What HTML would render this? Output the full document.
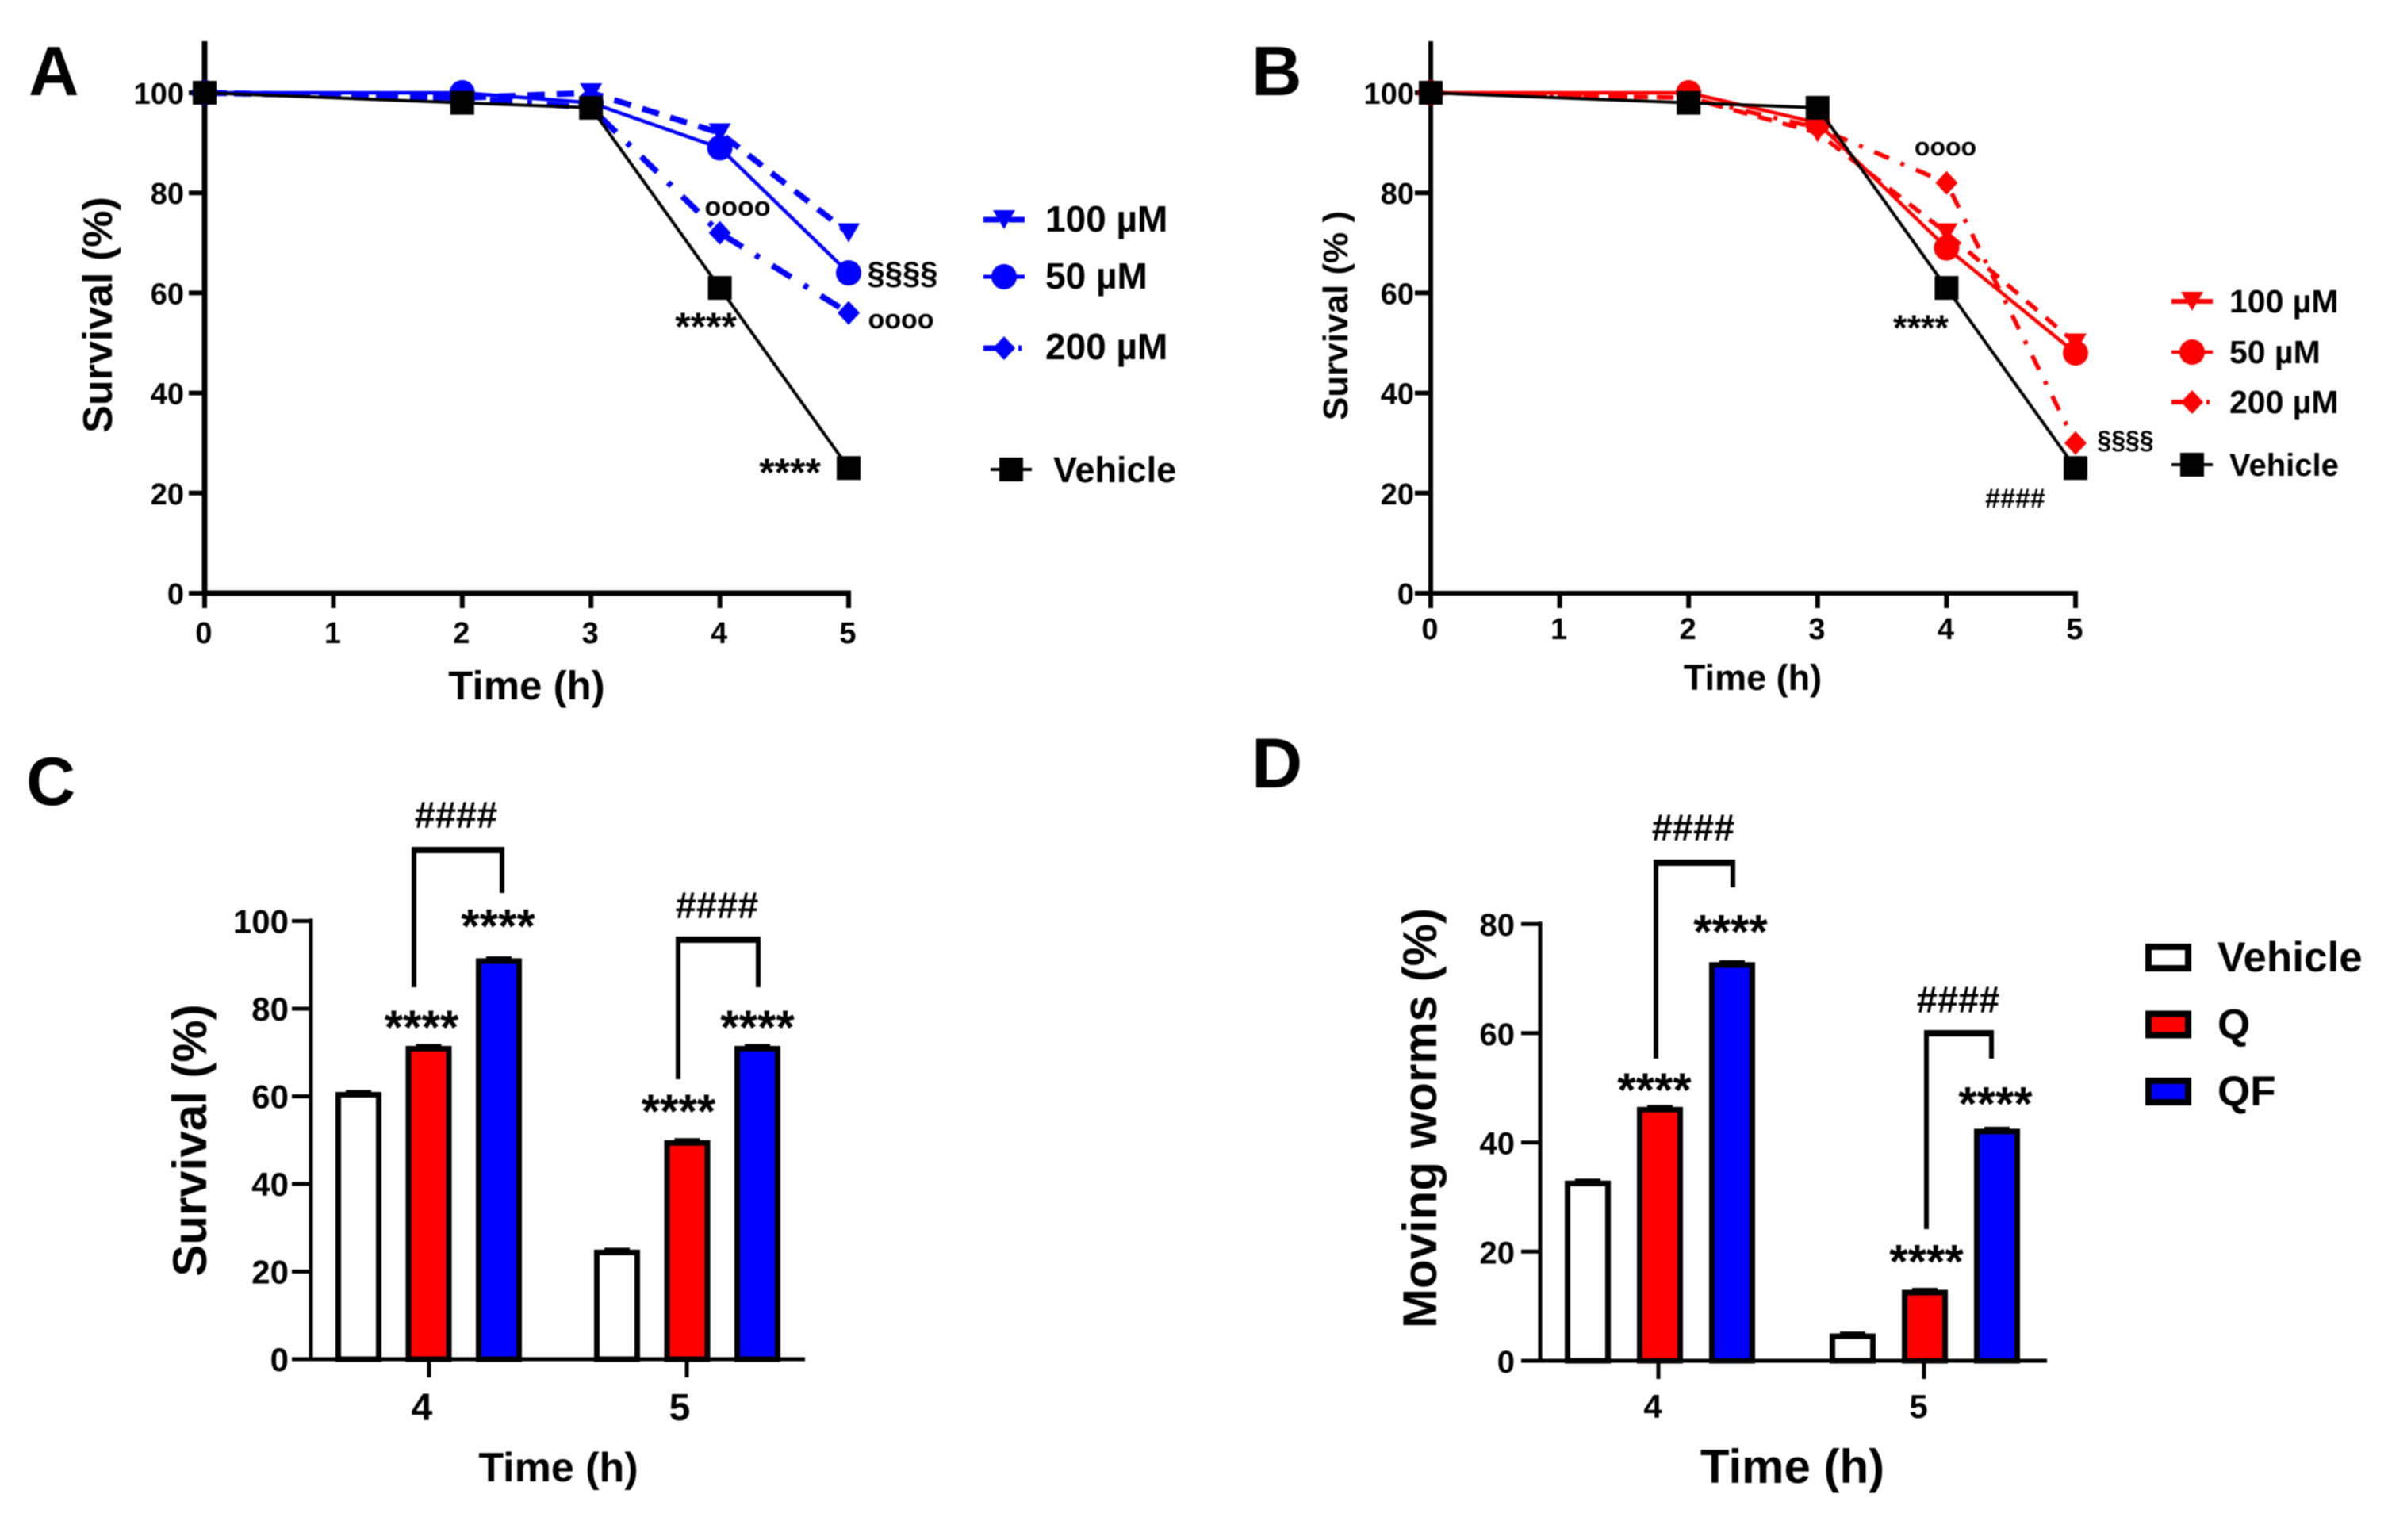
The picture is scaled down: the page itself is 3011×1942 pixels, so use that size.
<!DOCTYPE html>
<html lang="en">
<head>
<meta charset="utf-8">
<title>Survival and motility charts</title>
<style>
html,body{margin:0;padding:0;background:#fff;width:3011px;height:1942px;overflow:hidden}
svg{display:block;filter:blur(.8px)}
text{font-family:"Liberation Sans",sans-serif;font-weight:700;fill:#000}
</style>
</head>
<body>
<svg id="figure" xmlns="http://www.w3.org/2000/svg" width="3011" height="1942" viewBox="0 0 3011 1942">
<rect width="3011" height="1942" fill="#fff"/>
<text x="36" y="120" font-size="88">A</text>
<text x="1578" y="120" font-size="88">B</text>
<text x="33" y="1015" font-size="86">C</text>
<text x="1578" y="993" font-size="89">D</text>
<text x="664" y="882" font-size="51" text-anchor="middle">Time (h)</text>
<text transform="translate(141 397) rotate(-90)" font-size="52" text-anchor="middle">Survival (%)</text>
<text x="2210" y="870" font-size="45" text-anchor="middle">Time (h)</text>
<text transform="translate(1699 398) rotate(-90)" font-size="44" text-anchor="middle">Survival (% )</text>
<text x="704" y="1868" font-size="52" text-anchor="middle">Time (h)</text>
<text transform="translate(260 1438) rotate(-90)" font-size="60" text-anchor="middle">Survival (%)</text>
<text x="2260" y="1870" font-size="60" text-anchor="middle">Time (h)</text>
<text transform="translate(1811 1410) rotate(-90)" font-size="60" text-anchor="middle">Moving worms (%)</text>
</svg>
<script>
// ---------- Chart data ----------
const lineHours = [0, 2, 3, 4, 5];
const lineXTicks = [0, 1, 2, 3, 4, 5];
const lineYTicks = [0, 20, 40, 60, 80, 100];

const aVehicle = [100, 98, 97, 61, 25];
const a50 = [100, 100, 98, 89, 64];
const a100 = [100, 99, 100, 92, 72];
const a200 = [100, 99, 97, 72, 56];

const bVehicle = [100, 98, 97, 61, 25];
const b50 = [100, 100, 94, 69, 48];
const b100 = [100, 99, 92, 72, 50];
const b200 = [100, 99, 93, 82, 30];

const barGroups = ['4', '5'];
const barSeriesNames = ['Vehicle', 'Q', 'QF'];
const cYTicks = [0, 20, 40, 60, 80, 100];
const cVehicle = [61, 25];
const cQ = [71.5, 50];
const cQF = [91.5, 71.5];

const dYTicks = [0, 20, 40, 60, 80];
const dVehicle = [33, 5];
const dQ = [46.5, 13];
const dQF = [73, 42.5];

// ---------- Helpers ----------
const NS = 'http://www.w3.org/2000/svg';
const svg = document.getElementById('figure');
function mk(tag, attrs) {
  const n = document.createElementNS(NS, tag);
  for (const k in attrs) n.setAttribute(k, attrs[k]);
  svg.appendChild(n);
  return n;
}
function label(name, str, x, y, size, anchor, weight, fill) {
  const t = mk('text', {x: x, y: y, 'font-size': size, 'text-anchor': anchor || 'middle', 'font-weight': weight || 700, fill: fill || '#000'});
  t.textContent = str;
  
  
  return t;
}
function seg(name, x1, y1, x2, y2, w) {
  const l = mk('line', {x1: x1, y1: y1, x2: x2, y2: y2, stroke: '#000', 'stroke-width': w});
  
  
  return l;
}
function marker(name, shape, cx, cy, color) {
  let m;
  if (shape === 'square') {
    m = mk('rect', {x: cx - 15, y: cy - 15, width: 30, height: 30, fill: color});
  } else if (shape === 'circle') {
    m = mk('circle', {cx: cx, cy: cy, r: 16, fill: color});
  } else if (shape === 'triangle') {
    m = mk('polygon', {points: (cx - 14) + ',' + (cy - 12) + ' ' + (cx + 14) + ',' + (cy - 12) + ' ' + cx + ',' + (cy + 12), fill: color});
  } else {
    m = mk('polygon', {points: cx + ',' + (cy - 15) + ' ' + (cx + 14) + ',' + cy + ' ' + cx + ',' + (cy + 15) + ' ' + (cx - 14) + ',' + cy, fill: color});
  }
  
  
  return m;
}
function series(name, values, fx, fy, color, width, dash, shape) {
  const pts = values.map(function (v, i) { return fx(lineHours[i]) + ',' + fy(v); }).join(' ');
  const p = mk('polyline', {points: pts, fill: 'none', stroke: color, 'stroke-width': width, 'stroke-dasharray': dash || 'none'});
  
  
  values.forEach(function (v, i) {
    marker(name + '-point-' + lineHours[i], shape, fx(lineHours[i]), fy(v), color);
  });
}
function legendLine(name, cx, cy, color, width, dash, shape) {
  const l = mk('line', {x1: cx - 26, y1: cy, x2: cx + 26, y2: cy, stroke: color, 'stroke-width': width, 'stroke-dasharray': dash || 'none'});
  
  
  marker(name + '-marker', shape, cx, cy, color);
}
function lineAxes(prefix, x0, xUnit, y0, yUnit, axisW, labelEnd, labelBase, labelSize) {
  const fx = function (t) { return x0 + t * xUnit; };
  const fy = function (v) { return y0 - v * yUnit; };
  seg(prefix + '-y-axis', x0, 52, x0, y0 + 3, axisW);
  seg(prefix + '-x-axis', x0 - 3, y0, fx(5) + 3, y0, axisW);
  lineYTicks.forEach(function (v) {
    seg(prefix + '-y-tick-' + v, x0 - 20, fy(v), x0, fy(v), 6);
    label(prefix + '-y-tick-label-' + v, String(v), labelEnd, fy(v) + 14, labelSize, 'end');
  });
  lineXTicks.forEach(function (t) {
    seg(prefix + '-x-tick-' + t, fx(t), y0, fx(t), y0 + 19, 6);
    label(prefix + '-x-tick-label-' + t, String(t), fx(t) - 1, labelBase, labelSize);
  });
  return {fx: fx, fy: fy};
}
function barPanel(prefix, yTicks, vehicle, q, qf, x0, xEnd, y0, yUnit, centers, tickX, barW, sw, tickSize, groupSize, groupBase, groupOffsets, labelEnd) {
  const fy = function (v) { return y0 - v * yUnit; };
  seg(prefix + '-y-axis', x0, fy(yTicks[yTicks.length - 1]) - 3, x0, y0, 5);
  yTicks.forEach(function (v) {
    seg(prefix + '-y-tick-' + v, x0 - 24, fy(v), x0, fy(v), 5);
    label(prefix + '-y-tick-label-' + v, String(v), labelEnd, fy(v) + 15, tickSize, 'end');
  });
  const sets = [vehicle, q, qf];
  const fills = ['#ffffff', '#ff0000', '#0000ff'];
  sets.forEach(function (vals, s) {
    vals.forEach(function (v, g) {
      const cx = centers(g, s);
      const r = mk('rect', {x: cx - barW / 2 + sw / 2, y: fy(v) + sw / 2, width: barW - sw, height: y0 - fy(v) - sw / 2, fill: fills[s], stroke: '#000', 'stroke-width': sw});
      
      
      seg(prefix + '-error-cap-' + barSeriesNames[s].toLowerCase() + '-' + barGroups[g], cx - 16, fy(v) - 1, cx + 16, fy(v) - 1, 3);
    });
  });
  seg(prefix + '-x-axis', x0 - 24, y0, xEnd, y0, 5);
  barGroups.forEach(function (name, g) {
    const tx = tickX(g);
    seg(prefix + '-x-tick-' + name, tx, y0, tx, y0 + 23, 5);
    label(prefix + '-x-tick-label-' + name, name, tx + groupOffsets, groupBase, groupSize);
  });
  return fy;
}
function bracket(name, x1, x2, top, leftEnd, rightEnd) {
  const p = mk('polyline', {points: x1 + ',' + leftEnd + ' ' + x1 + ',' + top + ' ' + x2 + ',' + top + ' ' + x2 + ',' + rightEnd, fill: 'none', stroke: '#000', 'stroke-width': 6});
  
  
  seg(name + '-top', x1 - 3, top + 1, x2 + 3, top + 1, 8);
}

// ---------- Panel A ----------
const axA = lineAxes('panel-a', 258, 162.4, 748, 6.31, 7, 232, 811, 38);
series('panel-a-200um', a200, axA.fx, axA.fy, '#0000ff', 7.5, '28 19 6 19', 'diamond');
series('panel-a-100um', a100, axA.fx, axA.fy, '#0000ff', 7.5, '22 15', 'triangle');
series('panel-a-50um', a50, axA.fx, axA.fy, '#0000ff', 4.5, '', 'circle');
series('panel-a-vehicle', aVehicle, axA.fx, axA.fy, '#000000', 4, '', 'square');
legendLine('panel-a-legend-100um', 1266, 277, '#0000ff', 7, '20 12', 'triangle');
label('panel-a-legend-label-100um', '100 µM', 1318, 292, 46, 'start', 700, '#0000ff');
legendLine('panel-a-legend-50um', 1266, 349, '#0000ff', 5, '', 'circle');
label('panel-a-legend-label-50um', '50 µM', 1318, 364, 46, 'start', 700, '#0000ff');
legendLine('panel-a-legend-200um', 1266, 439, '#0000ff', 7, '38 6 4', 'diamond');
label('panel-a-legend-label-200um', '200 µM', 1318, 453, 46, 'start', 700, '#0000ff');
legendLine('panel-a-legend-vehicle', 1275, 592, '#000000', 4, '', 'square');
label('panel-a-legend-label-vehicle', 'Vehicle', 1328, 608, 45, 'start');
label('panel-a-annotation-oooo-4h', 'oooo', 930, 272, 34, 'middle', 400, '#222');
label('panel-a-annotation-oooo-5h', 'oooo', 1136, 414, 34, 'middle', 400, '#222');
label('panel-a-annotation-section-5h', '§§§§', 1138, 358, 40, 'middle', 700, '#222');
label('panel-a-annotation-stars-4h', '****', 890, 429, 50, 'middle', 700, '#222');
label('panel-a-annotation-stars-5h', '****', 996, 613, 50, 'middle', 700, '#222');

// ---------- Panel B ----------
const axB = lineAxes('panel-b', 1804, 162.6, 748, 6.31, 6, 1783, 806, 38);
series('panel-b-200um', b200, axB.fx, axB.fy, '#ff0000', 5.5, '20 16 5 16', 'diamond');
series('panel-b-100um', b100, axB.fx, axB.fy, '#ff0000', 5.5, '18 14', 'triangle');
series('panel-b-50um', b50, axB.fx, axB.fy, '#ff0000', 4.5, '', 'circle');
series('panel-b-vehicle', bVehicle, axB.fx, axB.fy, '#000000', 4, '', 'square');
legendLine('panel-b-legend-100um', 2764, 380, '#ff0000', 6, '20 12', 'triangle');
label('panel-b-legend-label-100um', '100 µM', 2811, 394, 41, 'start', 700, '#ff0000');
legendLine('panel-b-legend-50um', 2764, 444, '#ff0000', 4.5, '', 'circle');
label('panel-b-legend-label-50um', '50 µM', 2811, 458, 41, 'start', 700, '#ff0000');
legendLine('panel-b-legend-200um', 2764, 507, '#ff0000', 6, '38 6 4', 'diamond');
label('panel-b-legend-label-200um', '200 µM', 2811, 521, 41, 'start', 700, '#ff0000');
legendLine('panel-b-legend-vehicle', 2764, 586, '#000000', 4, '', 'square');
label('panel-b-legend-label-vehicle', 'Vehicle', 2811, 600, 40, 'start');
label('panel-b-annotation-oooo-4h', 'oooo', 2453, 196, 32, 'middle', 400, '#222');
label('panel-b-annotation-stars-4h', '****', 2422, 429, 45, 'middle', 700, '#222');
label('panel-b-annotation-section-5h', '§§§§', 2680, 566, 32, 'middle', 700, '#222');
label('panel-b-annotation-hash-5h', '####', 2541, 640, 34, 'middle', 700, '#222');

// ---------- Panel C ----------
const cCenter = function (g, s) { return 452 + g * 326 + s * 88.5; };
const cTick = function (g) { return 541 + g * 325; };
const fyC = barPanel('panel-c', cYTicks, cVehicle, cQ, cQF, 392, 1015, 1714, 5.525, cCenter, cTick, 58, 7, 42, 48, 1791, -9, 364);
bracket('panel-c-bracket-4h', 522, 633, 1071, 1245, 1126);
bracket('panel-c-bracket-5h', 855, 956, 1184, 1361, 1245);
label('panel-c-hash-4h', '####', 575, 1044, 47, 'middle', 400);
label('panel-c-hash-5h', '####', 904, 1158, 47, 'middle', 400);
label('panel-c-stars-q-4h', '****', cCenter(0, 1) - 9, fyC(cQ[0]) - 3, 60);
label('panel-c-stars-qf-4h', '****', cCenter(0, 2) - 1, fyC(cQF[0]) - 20, 60);
label('panel-c-stars-q-5h', '****', cCenter(1, 1) - 11, fyC(cQ[1]) - 16, 60);
label('panel-c-stars-qf-5h', '****', cCenter(1, 2), fyC(cQF[1]) - 3, 60);

// ---------- Panel D ----------
const dCenter = function (g, s) { return 2002 + g * 334 + s * 91; };
const dTick = function (g) { return 2091 + g * 335; };
const fyD = barPanel('panel-d', dYTicks, dVehicle, dQ, dQF, 1942, 2581, 1716, 6.885, dCenter, dTick, 58, 7, 40, 42, 1788, -7, 1910);
bracket('panel-d-bracket-4h', 2088, 2185, 1087, 1335, 1119);
bracket('panel-d-bracket-5h', 2429, 2511, 1302, 1550, 1335);
label('panel-d-hash-4h', '####', 2135, 1060, 47, 'middle', 400);
label('panel-d-hash-5h', '####', 2469, 1277, 47, 'middle', 400);
label('panel-d-stars-q-4h', '****', dCenter(0, 1) - 7, fyD(dQ[0]) - 1, 60);
label('panel-d-stars-qf-4h', '****', dCenter(0, 2) - 2, fyD(dQF[0]) - 18, 60);
label('panel-d-stars-q-5h', '****', dCenter(1, 1) + 2, fyD(dQ[1]) - 15, 60);
label('panel-d-stars-qf-5h', '****', dCenter(1, 2) - 2, fyD(dQF[1]) - 11, 60);

// Panel D legend
const legendFills = ['#ffffff', '#ff0000', '#0000ff'];
const legendBoxTop = function (i) { return 1190 + i * 84.5; };
legendFills.forEach(function (color, i) {
  const box = mk('rect', {x: 2709, y: legendBoxTop(i) + 4, width: 50, height: 27, fill: color, stroke: '#000', 'stroke-width': 8});
  
  
  label('panel-d-legend-label-' + barSeriesNames[i].toLowerCase(), barSeriesNames[i], 2796, legendBoxTop(i) + 35, 53, 'start');
});
</script>
</body>
</html>
